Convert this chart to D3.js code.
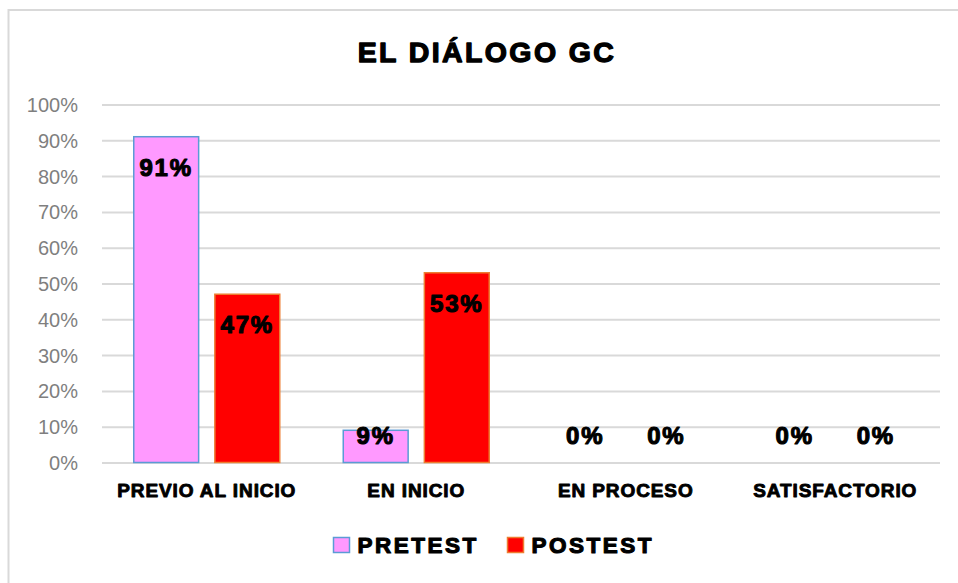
<!DOCTYPE html>
<html>
<head>
<meta charset="utf-8">
<script src="https://cdn.jsdelivr.net/npm/d3@7"></script>
<style>
  body { margin: 0; background: #fff; }
  svg { display: block; }
  .bold { font-family: "Liberation Sans", Arial, sans-serif; font-weight: bold; fill: #000; stroke: #000; stroke-linejoin: round; }
</style>
</head>
<body>
<div id="chart"></div>
<script>
const categories = ["PREVIO AL INICIO", "EN INICIO", "EN PROCESO", "SATISFACTORIO"];
const seriesNames = ["PRETEST", "POSTEST"];
const pretest = [0.91, 0.09, 0, 0];
const postest = [0.47, 0.53, 0, 0];
const yTicks = [0, 0.1, 0.2, 0.3, 0.4, 0.5, 0.6, 0.7, 0.8, 0.9, 1];
const title = "EL DIÁLOGO GC";

const drawChart = () => {
  const chartSize = { width: 958, height: 583 };
  const plot = { left: 102, right: 940, top: 104.5, bottom: 462.5 };
  const fills = { PRETEST: "#ff99ff", POSTEST: "#ff0000" };
  const strokes = { PRETEST: "#5b9bd5", POSTEST: "#ed7d31" };

  const rows = categories.map((c, i) => ({
    cat: c,
    values: [
      { name: "PRETEST", v: pretest[i] },
      { name: "POSTEST", v: postest[i] }
    ]
  }));

  const svg = d3.select("#chart")
    .append("svg")
    .attr("width", chartSize.width)
    .attr("height", chartSize.height);

  // chart frame
  svg.append("rect")
    .attr("x", 8.5).attr("y", 10)
    .attr("width", 1000).attr("height", 1000)
    .attr("fill", "#fff")
    .attr("stroke", "#d9d9d9")
    .attr("stroke-width", 2);

  const y = d3.scaleLinear().domain([0, 1]).range([plot.bottom, plot.top]);
  const x0 = d3.scaleBand().domain(categories).range([plot.left, plot.right]);
  const x1 = d3.scaleBand()
    .domain(seriesNames)
    .range([x0.bandwidth() / 2 - 73, x0.bandwidth() / 2 + 73])
    .paddingInner(0.2);

  svg.append("text")
    .attr("class", "bold")
    .attr("x", 487).attr("y", 61.5)
    .attr("text-anchor", "middle")
    .attr("font-size", 28.5)
    .attr("letter-spacing", 2.4)
    .attr("stroke-width", 1.3)
    .text(title);

  // gridlines + y labels
  const yAxis = d3.axisLeft(y)
    .tickValues(yTicks)
    .tickSize(-(plot.right - plot.left))
    .tickPadding(24)
    .tickFormat(d3.format(".0%"));

  const ga = svg.append("g")
    .attr("transform", `translate(${plot.left},0)`)
    .call(yAxis);
  ga.select(".domain").remove();
  ga.selectAll(".tick line").attr("stroke", "#d9d9d9").attr("stroke-width", 2);
  ga.selectAll(".tick text")
    .attr("fill", "#7f7f7f")
    .attr("font-family", "'Liberation Sans', Arial, sans-serif")
    .attr("font-size", 20)
    .attr("dy", "0.35em");

  const groups = svg.selectAll(".grp")
    .data(rows)
    .enter()
    .append("g")
    .attr("class", "grp")
    .attr("transform", d => `translate(${x0(d.cat)},0)`);

  groups.selectAll("rect")
    .data(d => d.values.filter(e => e.v > 0))
    .enter()
    .append("rect")
    .attr("x", d => x1(d.name))
    .attr("y", d => y(d.v))
    .attr("width", x1.bandwidth())
    .attr("height", d => y(0) - y(d.v))
    .attr("fill", d => fills[d.name])
    .attr("stroke", d => strokes[d.name])
    .attr("stroke-width", 1.5);

  groups.selectAll(".lbl")
    .data(d => d.values)
    .enter()
    .append("text")
    .attr("class", "bold lbl")
    .attr("x", d => x1(d.name) + x1.bandwidth() / 2)
    .attr("y", d => Math.min(y(d.v) + 39, y(0) - 19))
    .attr("text-anchor", "middle")
    .attr("font-size", 24)
    .attr("letter-spacing", 1.8)
    .attr("stroke-width", 1.1)
    .text(d => d3.format(".0%")(d.v));

  // category labels
  svg.selectAll(".cat")
    .data(categories)
    .enter()
    .append("text")
    .attr("class", "bold cat")
    .attr("x", d => x0(d) + x0.bandwidth() / 2)
    .attr("y", 497)
    .attr("text-anchor", "middle")
    .attr("font-size", 19)
    .attr("letter-spacing", 0.9)
    .attr("stroke-width", 0.9)
    .text(d => d);

  // legend
  const legendX = [333.5, 507.5];
  const lg = svg.selectAll(".leg")
    .data(seriesNames)
    .enter()
    .append("g")
    .attr("class", "leg")
    .attr("transform", (d, i) => `translate(${legendX[i]},537.5)`);
  lg.append("rect")
    .attr("width", 16).attr("height", 15)
    .attr("fill", d => fills[d])
    .attr("stroke", d => strokes[d])
    .attr("stroke-width", 1.5);
  lg.append("text")
    .attr("class", "bold")
    .attr("x", 24).attr("y", 15.5)
    .attr("font-size", 22.5)
    .attr("letter-spacing", 2.5)
    .attr("stroke-width", 1.1)
    .text(d => d);
};

window.onload = drawChart;
</script>
</body>
</html>
